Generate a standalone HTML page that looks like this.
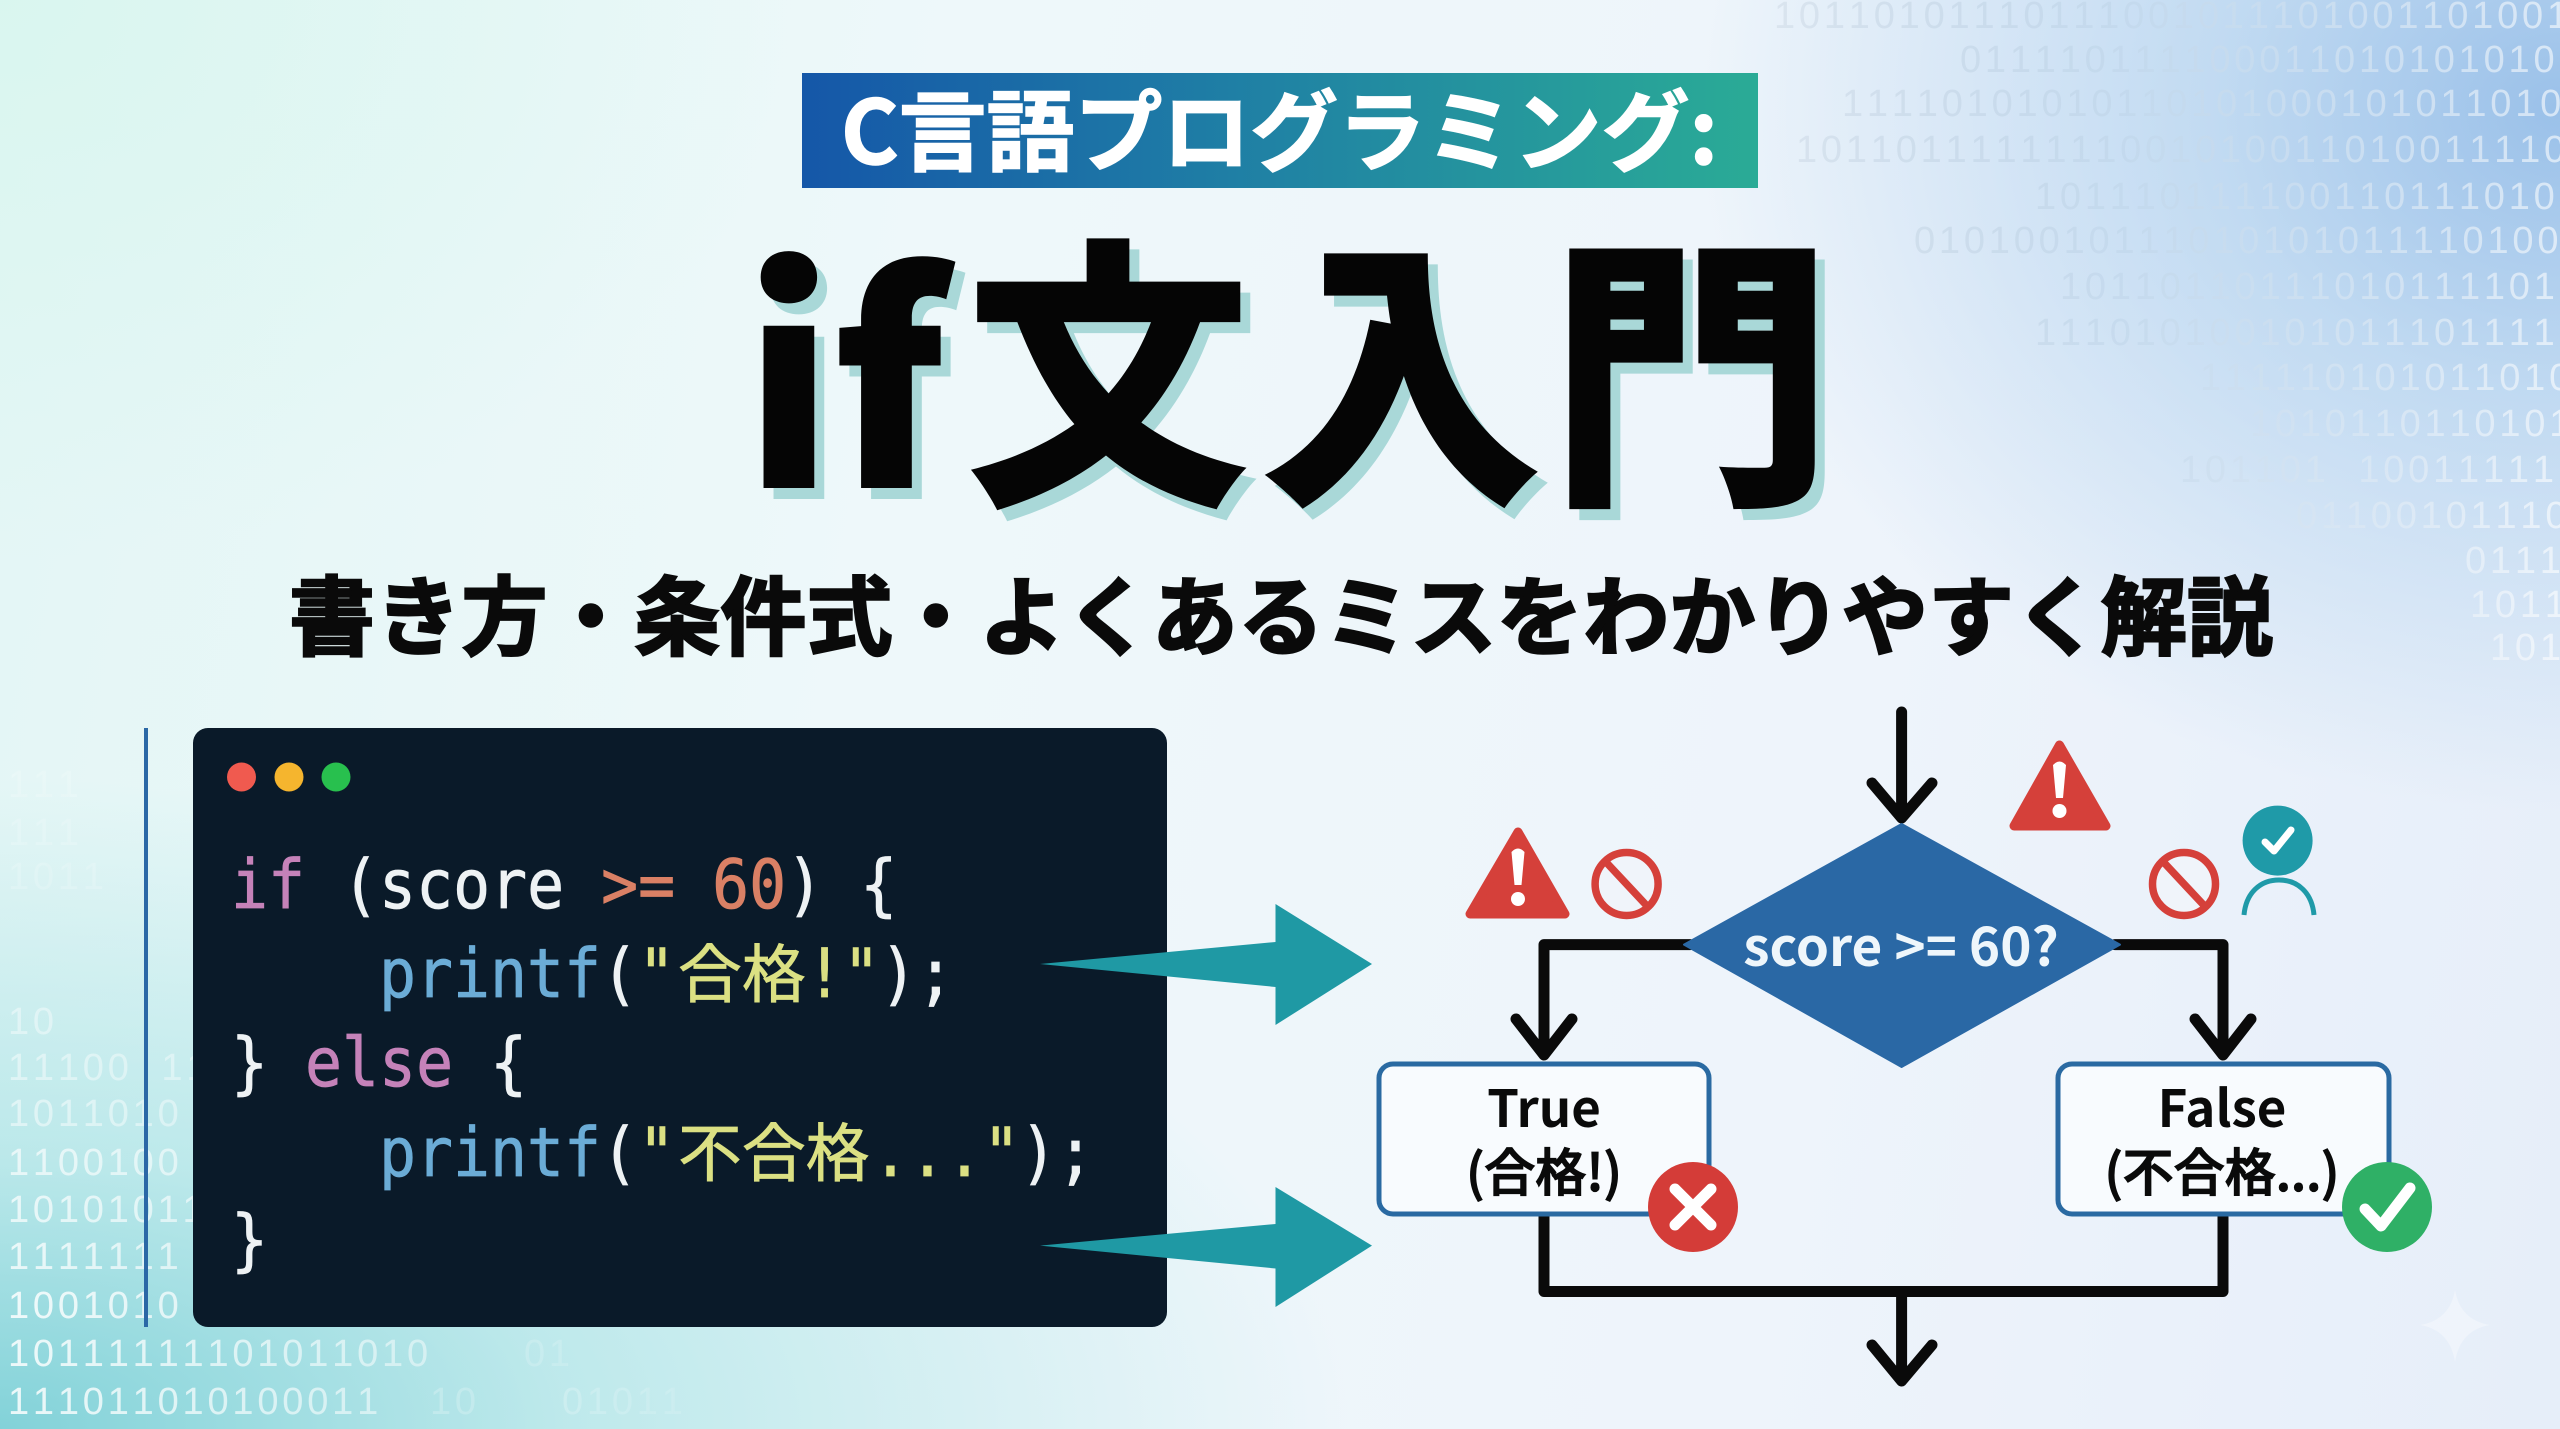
<!DOCTYPE html>
<html lang="ja"><head><meta charset="utf-8"><title>C言語プログラミング: if文入門</title>
<style>
html,body{margin:0;padding:0;width:2560px;height:1429px;overflow:hidden}
body{background:
radial-gradient(ellipse 860px 700px at 2560px 110px,rgba(150,190,232,.95) 0%,rgba(175,208,238,.7) 40%,rgba(225,236,248,0) 100%),
radial-gradient(ellipse 1350px 650px at 0px 1429px,rgba(125,208,215,.95) 0%,rgba(165,225,228,.65) 42%,rgba(215,243,242,0) 100%),
radial-gradient(ellipse 800px 560px at 0px 0px,rgba(212,246,236,.65) 0%,rgba(225,247,243,0) 100%),
linear-gradient(100deg,#e3f6f5 0%,#eef8fa 35%,#eef4fb 70%,#e6eef9 100%)}
svg{position:absolute;left:0;top:0}
text{white-space:pre}
.n{font-family:"Noto Sans CJK JP",sans-serif}
.b{font-family:"Liberation Sans",sans-serif;font-size:38px;letter-spacing:3.8px;font-kerning:none}
.c{font-family:"DejaVu Sans Mono","Noto Sans CJK JP",monospace;font-size:61.5px;stroke-width:.7px}
.z{font-family:"Noto Sans CJK JP",sans-serif;font-size:58px}
</style></head><body>
<svg width="2560" height="1429" viewBox="0 0 2560 1429" xmlns="http://www.w3.org/2000/svg">
<defs>
<linearGradient id="bn" x1="0" x2="1" y1="0" y2="0"><stop offset="0" stop-color="#1557a8"/><stop offset=".45" stop-color="#1f7fa5"/><stop offset="1" stop-color="#2aab96"/></linearGradient>
<linearGradient id="tr" gradientUnits="userSpaceOnUse" x1="1770" x2="2560" y1="0" y2="0"><stop offset="0" stop-color="#a8b8c8" stop-opacity=".22"/><stop offset=".45" stop-color="#bcd2e6" stop-opacity=".45"/><stop offset="1" stop-color="#ffffff" stop-opacity=".6"/></linearGradient>
<linearGradient id="bl" gradientUnits="userSpaceOnUse" x1="0" x2="700" y1="0" y2="0"><stop offset="0" stop-color="#fff" stop-opacity=".85"/><stop offset=".5" stop-color="#fff" stop-opacity=".55"/><stop offset="1" stop-color="#fff" stop-opacity=".14"/></linearGradient>
</defs>

<g class="b" fill="url(#tr)">
<text x="1774" y="28">10110101110111001011101001101001010</text>
<text x="1960" y="72">011110111100011010101010101</text>
<text x="1842" y="116">11110101010110101000101011010</text>
<text x="1796" y="162">10110111111110010100110100111101</text>
<text x="2035" y="209">1011101111001101110101</text>
<text x="1914" y="253">01010010111010101011110100</text>
<text x="2060" y="299">101101101110101111010</text>
<text x="2035" y="345">11101010010101110111101</text>
<text x="2200" y="390">111110101011010</text>
<text x="2250" y="436">1010110110101</text>
<text x="2180" y="482">101101  100111111</text>
<text x="2296" y="528">0110010111010</text>
<text x="2465" y="573">0111</text>
<text x="2470" y="617">1011</text>
<text x="2490" y="660">101</text>
</g>
<g class="b" fill="url(#bl)">
<text x="8" y="797" opacity=".2">111</text>
<text x="8" y="845" opacity=".2">111</text>
<text x="8" y="889" opacity=".2">1011</text>
<text x="8" y="1034" opacity=".5">10</text>
<text x="8" y="1080" opacity=".55">11100  11</text>
<text x="8" y="1126" opacity=".6">1011010</text>
<text x="8" y="1175" opacity=".8">1100100</text>
<text x="8" y="1222" opacity=".85">10101011</text>
<text x="8" y="1269" opacity=".9">1111111</text>
<text x="8" y="1318">1001010</text>
<text x="8" y="1366">10111111101011010</text>
<text x="524" y="1366" opacity=".5">01</text>
<text x="8" y="1414">111011010100011</text>
<text x="430" y="1414" opacity=".5">10</text>
<text x="562" y="1414" opacity=".7">01011</text>
</g>

<!-- banner -->
<rect x="802" y="73" width="956" height="115" fill="url(#bn)"/>
<text class="n" x="841" y="164" font-size="88" font-weight="700" fill="#fff" textLength="877" lengthAdjust="spacing" stroke="#fff" stroke-width="1.5">C言語プログラミング:</text>

<!-- title -->
<g class="n" font-size="285" font-weight="900">
<g fill="#a9d8d8" transform="translate(10,11)">
<text x="743" y="488">i</text><text x="832" y="488">f</text>
<text x="1108" y="482" text-anchor="middle">文</text><text x="1401" y="482" text-anchor="middle">入</text><text x="1691" y="482" text-anchor="middle">門</text>
</g>
<g fill="#050505">
<text x="743" y="488">i</text><text x="832" y="488">f</text>
<text x="1108" y="482" text-anchor="middle">文</text><text x="1401" y="482" text-anchor="middle">入</text><text x="1691" y="482" text-anchor="middle">門</text>
</g>
</g>

<!-- subtitle -->
<text class="n" x="289" y="648" font-size="86" font-weight="700" fill="#0a0a0a" textLength="1984" lengthAdjust="spacing" stroke="#0a0a0a" stroke-width="2.4">書き方・条件式・よくあるミスをわかりやすく解説</text>

<!-- code panel -->
<rect x="144" y="728" width="4" height="599" fill="#2b68a6"/>
<rect x="193" y="728" width="974" height="599" rx="15" fill="#0a1a29"/>
<circle cx="241.5" cy="777" r="14.5" fill="#f05a4f"/>
<circle cx="289" cy="777" r="14.5" fill="#f5b52e"/>
<circle cx="336" cy="777" r="14.5" fill="#28c04e"/>
<g class="c" fill="#eef2f4" stroke="#eef2f4">
<text x="231" y="0" transform="translate(0,908) scale(1,1.1)"><tspan fill="#c582b9" stroke="#c582b9">if</tspan> (score <tspan fill="#da8065" stroke="#da8065">&gt;= 60</tspan>) {</text>
<text y="0" transform="translate(0,997) scale(1,1.1)"><tspan x="379" fill="#6bacd6" stroke="#6bacd6">printf</tspan>(<tspan fill="#dbe083" stroke="#dbe083">"</tspan></text>
<text class="z" x="678" y="0" transform="translate(0,997) scale(1.1,1.1) translate(-61.6,0)" fill="#dbe083" stroke="#dbe083">合格</text>
<text x="806" y="0" transform="translate(0,997) scale(1,1.1)"><tspan fill="#dbe083" stroke="#dbe083">!"</tspan>);</text>
<text x="231" y="0" transform="translate(0,1086) scale(1,1.1)">} <tspan fill="#c582b9" stroke="#c582b9">else</tspan> {</text>
<text y="0" transform="translate(0,1176) scale(1,1.1)"><tspan x="379" fill="#6bacd6" stroke="#6bacd6">printf</tspan>(<tspan fill="#dbe083" stroke="#dbe083">"</tspan></text>
<text class="z" x="678" y="0" transform="translate(0,1176) scale(1.1,1.1) translate(-61.6,0)" fill="#dbe083" stroke="#dbe083">不合格</text>
<text x="872" y="0" transform="translate(0,1176) scale(1,1.1)"><tspan fill="#dbe083" stroke="#dbe083">..."</tspan>);</text>
<text x="231" y="0" transform="translate(0,1263) scale(1,1.1)">}</text>
</g>

<!-- teal arrows -->
<polygon points="1040,964 1275.5,942 1275.5,904 1372,964 1275.5,1025 1275.5,987" fill="#1f99a4"/>
<polygon points="1040,1245.6 1275.5,1224 1275.5,1187 1372,1245.6 1275.5,1307 1275.5,1268.5" fill="#1f99a4"/>

<!-- flow connectors -->
<g fill="none" stroke="#0a0a0a" stroke-width="11" stroke-linecap="round" stroke-linejoin="round">
<path d="M1901.6 712V816M1872 783L1901.6 818L1932 783"/>
<path d="M1690 944.6H1544V1052M1516 1019L1544 1055L1572 1019"/>
<path d="M2115 944.6H2223V1052M2195 1019L2223 1055L2251 1019"/>
<path d="M1544 1215V1291.5H2223V1215"/>
<path d="M1901.6 1291.5V1379M1872 1345L1901.6 1381L1932 1345"/>
</g>
<polygon points="1901.6,824 2120,944.6 1901.6,1067 1684,944.6" fill="#2a68a5" stroke="#2a68a5" stroke-width="2" stroke-linejoin="round"/>
<text class="n" x="1901" y="966" font-size="53" font-weight="700" fill="#eef6fb" text-anchor="middle">score &gt;= 60?</text>

<rect x="1379" y="1064" width="330" height="150" rx="14" fill="#f8fbfe" stroke="#2a6aa2" stroke-width="5"/>
<rect x="2058" y="1064" width="331" height="150" rx="14" fill="#f8fbfe" stroke="#2a6aa2" stroke-width="5"/>
<g class="n" font-size="51" font-weight="700" fill="#0a0a0a" text-anchor="middle">
<text x="1544" y="1127">True</text>
<text x="1544" y="1191" font-weight="500" stroke="#0a0a0a" stroke-width="1.3">(合格!)</text>
<text x="2222" y="1127">False</text>
<text x="2222" y="1191" font-weight="500" stroke="#0a0a0a" stroke-width="1.3">(不合格...)</text>
</g>

<!-- status -->
<circle cx="1693" cy="1207" r="45" fill="#d43c38"/>
<path d="M1675 1189L1711 1225M1711 1189L1675 1225" stroke="#fff" stroke-width="11" stroke-linecap="round"/>
<circle cx="2387" cy="1207" r="45" fill="#2fb066"/>
<path d="M2365 1209L2381 1226L2410 1188" fill="none" stroke="#fff" stroke-width="11" stroke-linecap="round" stroke-linejoin="round"/>

<!-- warnings -->
<g fill="#d5403a" stroke="#d5403a" stroke-width="9" stroke-linejoin="round">
<polygon points="1518,832 1565,914 1470,914"/>
<polygon points="2059.5,745 2106,826 2014,826"/>
</g>
<g fill="#fff">
<path d="M1511.5 852Q1518 845 1524.5 852L1521.5 885H1514.5Z"/><circle cx="1518" cy="899" r="7"/>
<path d="M2053 765Q2059.5 758 2066 765L2063 798H2056Z"/><circle cx="2059.5" cy="811" r="7"/>
</g>
<g fill="#f0f4fa" stroke="#d5403a" stroke-width="7.5">
<circle cx="1626.6" cy="884" r="31.5"/><path d="M1605 861L1648 907"/>
<circle cx="2184" cy="884" r="31.5"/><path d="M2162.5 861L2205.5 907"/>
</g>
<circle cx="2277.6" cy="840.6" r="35" fill="#1f9aa8"/>
<path d="M2265 842L2274 851L2291 830" fill="none" stroke="#fff" stroke-width="7" stroke-linecap="round" stroke-linejoin="round"/>
<path d="M2244 915C2246 893 2260 880 2279 880C2298 880 2312 893 2314 915" fill="none" stroke="#1f9aa8" stroke-width="5"/>

<!-- sparkle -->
<path d="M2455 1290Q2460 1320 2490 1325Q2460 1330 2455 1362Q2450 1330 2420 1325Q2450 1320 2455 1290Z" fill="#fff" opacity=".35"/>
</svg>
</body></html>
